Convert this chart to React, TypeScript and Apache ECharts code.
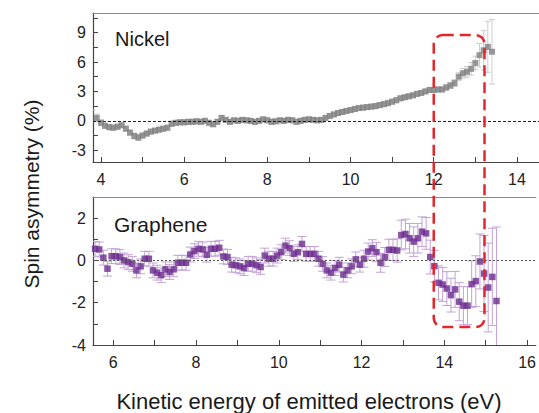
import React, { useEffect, useRef } from "react";
import * as echarts from "echarts";

// ---------- Nickel (top panel) ----------
const nickelEnergy = [
  3.8, 3.9, 4.0, 4.1, 4.2, 4.3, 4.4, 4.5, 4.6, 4.7, 4.8, 4.9, 5.0, 5.1, 5.2, 5.3, 5.4, 5.5, 5.6, 5.7,
  5.8, 5.9, 6.0, 6.1, 6.2, 6.3, 6.4, 6.5, 6.6, 6.7, 6.8, 6.9, 7.0, 7.1, 7.2, 7.3, 7.4, 7.5, 7.6, 7.7,
  7.8, 7.9, 8.0, 8.1, 8.2, 8.3, 8.4, 8.5, 8.6, 8.7, 8.8, 8.9, 9.0, 9.1, 9.2, 9.3, 9.4, 9.5, 9.6, 9.7,
  9.8, 9.9, 10.0, 10.1, 10.2, 10.3, 10.4, 10.5, 10.6, 10.7, 10.8, 10.9, 11.0, 11.1, 11.2, 11.3, 11.4, 11.5, 11.6, 11.7,
  11.8, 11.9, 12.0, 12.1, 12.2, 12.3, 12.4, 12.5, 12.6, 12.7, 12.8, 12.9, 13.0, 13.1, 13.2, 13.3, 13.4,
];
const nickelAsym = [
  0.5, 0.3, -0.2, -0.5, -0.65, -0.7, -0.6, -0.45, -0.8, -1.2, -1.55, -1.7, -1.5, -1.3, -1.1, -1.0, -0.9, -0.8, -0.7, -0.3,
  -0.2, -0.15, -0.15, -0.1, -0.1, -0.05, -0.1, 0.0, -0.2, -0.35, -0.1, 0.3, 0.1, -0.1, 0.05, 0.0, 0.1, 0.05, 0.0, -0.1,
  0.0, 0.15, 0.05, -0.1, -0.05, 0.05, 0.0, 0.1, 0.05, -0.1, 0.0, 0.1, 0.15, 0.1, 0.05, 0.1, 0.3, 0.5, 0.65, 0.8,
  0.9, 1.0, 1.1, 1.2, 1.3, 1.35, 1.4, 1.45, 1.5, 1.6, 1.7, 1.8, 1.95, 2.1, 2.3, 2.4, 2.5, 2.6, 2.75, 2.85,
  3.0, 3.15, 3.15, 3.2, 3.2, 3.4, 3.6, 3.85, 4.5, 4.85, 5.0, 5.3, 5.9, 6.7, 7.2, 7.55, 7.05,
];
const nickelErr = [
  0.6, 0.4, 0.3, 0.25, 0.25, 0.25, 0.25, 0.25, 0.25, 0.25, 0.3, 0.3, 0.25, 0.25, 0.25, 0.25, 0.25, 0.25, 0.25, 0.25,
  0.25, 0.25, 0.25, 0.25, 0.25, 0.25, 0.25, 0.25, 0.25, 0.25, 0.25, 0.25, 0.25, 0.25, 0.25, 0.25, 0.25, 0.25, 0.25, 0.25,
  0.25, 0.25, 0.25, 0.25, 0.25, 0.25, 0.25, 0.25, 0.25, 0.25, 0.25, 0.25, 0.25, 0.25, 0.25, 0.25, 0.25, 0.25, 0.25, 0.25,
  0.25, 0.25, 0.25, 0.25, 0.25, 0.25, 0.25, 0.25, 0.25, 0.25, 0.25, 0.25, 0.25, 0.25, 0.25, 0.25, 0.25, 0.25, 0.25, 0.25,
  0.25, 0.25, 0.25, 0.25, 0.25, 0.3, 0.3, 0.35, 0.4, 0.5, 0.55, 0.65, 0.7, 1.2, 2.0, 2.6, 3.3,
];

// ---------- Graphene (bottom panel) ----------
const grapheneEnergy = [
  5.56, 5.66, 5.76, 5.86, 5.96, 6.06, 6.16, 6.26, 6.36, 6.46, 6.56, 6.66, 6.76, 6.86, 6.96, 7.06, 7.16, 7.26, 7.36, 7.46,
  7.56, 7.66, 7.76, 7.86, 7.96, 8.06, 8.16, 8.26, 8.36, 8.46, 8.56, 8.66, 8.76, 8.86, 8.96, 9.06, 9.16, 9.26, 9.36, 9.46,
  9.56, 9.66, 9.76, 9.86, 9.96, 10.06, 10.16, 10.26, 10.36, 10.46, 10.56, 10.66, 10.76, 10.86, 10.96, 11.06, 11.16, 11.26, 11.36, 11.46,
  11.56, 11.66, 11.76, 11.86, 11.96, 12.06, 12.16, 12.26, 12.36, 12.46, 12.56, 12.66, 12.76, 12.86, 12.96, 13.06, 13.16, 13.26, 13.36, 13.46,
  13.56, 13.66, 13.76, 13.86, 13.96, 14.06, 14.16, 14.26, 14.36, 14.46, 14.56, 14.66, 14.76, 14.86, 14.96, 15.06, 15.16, 15.26,
];
const grapheneAsym = [
  0.55, 0.52, 0.13, -0.39, 0.2, 0.2, 0.16, 0.0, -0.08, -0.16, -0.47, -0.28, 0.08, 0.08, -0.47, -0.58, -0.7, -0.42, -0.55, -0.42,
  -0.11, -0.11, -0.11, 0.28, 0.44, 0.55, 0.52, 0.27, 0.55, 0.55, 0.6, 0.19, 0.16, -0.2, -0.23, -0.28, -0.36, -0.16, -0.16, -0.23,
  -0.31, 0.23, 0.08, 0.08, 0.23, 0.39, 0.7, 0.58, 0.31, 0.39, 0.78, 0.31, 0.31, 0.31, 0.08, -0.16, -0.47, -0.58, -0.36, -0.2,
  -0.67, -0.47, -0.28, 0.05, -0.2, 0.08, 0.42, 0.58, 0.39, -0.11, 0.16, 0.5, 0.5, 0.47, 1.2, 1.25, 1.05, 0.89, 1.05, 1.36,
  1.28, 0.16, -0.27, -1.06, -1.14, -1.33, -1.64, -1.37, -1.95, -2.14, -2.14, -1.12, -0.98, -0.05, -0.62, -1.28, -0.78, -1.92,
];
const grapheneErr = [
  0.35, 0.35, 0.35, 0.35, 0.35, 0.35, 0.35, 0.35, 0.35, 0.35, 0.35, 0.35, 0.35, 0.35, 0.35, 0.35, 0.35, 0.35, 0.35, 0.35,
  0.35, 0.35, 0.35, 0.35, 0.35, 0.35, 0.35, 0.35, 0.35, 0.35, 0.35, 0.35, 0.35, 0.35, 0.35, 0.35, 0.35, 0.35, 0.35, 0.35,
  0.35, 0.35, 0.35, 0.35, 0.35, 0.35, 0.35, 0.35, 0.35, 0.35, 0.35, 0.35, 0.35, 0.35, 0.35, 0.35, 0.35, 0.35, 0.35, 0.35,
  0.35, 0.35, 0.35, 0.35, 0.35, 0.4, 0.4, 0.4, 0.45, 0.45, 0.45, 0.5, 0.5, 0.55, 0.7, 0.7, 0.7, 0.7, 0.7, 0.7,
  0.75, 0.8, 0.75, 0.8, 0.8, 0.8, 0.8, 0.85, 0.9, 0.9, 0.9, 1.1, 1.2, 1.3, 1.8, 2.1, 2.3, 3.5,
];

// ---------- Axis ticks / labels ----------
const nickelXRange = [3.81, 14.53];
const nickelXLabels = [4, 6, 8, 10, 12, 14];
const nickelXTicks = [4, 5, 6, 7, 8, 9, 10, 11, 12, 13, 14];
const nickelYRange = [-4.2, 11];
const nickelYLabels = [-3, 0, 3, 6, 9];
const nickelYTicks = [-3, -1.5, 0, 1.5, 3, 4.5, 6, 7.5, 9, 10.5];
const grapheneXRange = [5.51, 16.21];
const grapheneXLabels = [6, 8, 10, 12, 14, 16];
const grapheneXTicks = [6, 7, 8, 9, 10, 11, 12, 13, 14, 15, 16];
const grapheneYRange = [-4, 3];
const grapheneYLabels = [-4, -2, 0, 2];
const grapheneYTicks = [-4, -3, -2, -1, 0, 1, 2];

// highlighted window (red dashed box) in data units
const boxNickelX = [12.0, 13.22];
const boxNickelTop = 8.75;
const boxGrapheneBottom = -3.15;

const FONT = "'Liberation Sans', Arial, Helvetica, sans-serif";

function errorBarSeries(name: string, xs: number[], ys: number[], es: number[], idx: number, color: string, cap: number) {
  return {
    name,
    type: "custom",
    xAxisIndex: idx,
    yAxisIndex: idx,
    clip: true,
    silent: true,
    z: 1,
    data: xs.map((x, i) => [x, ys[i], es[i]]),
    encode: { x: 0, y: 1 },
    renderItem: (params: any, api: any) => {
      const x = api.value(0);
      const y = api.value(1);
      const e = api.value(2);
      const hi = api.coord([x, y + e]);
      const lo = api.coord([x, y - e]);
      const st = { stroke: color, lineWidth: 1, fill: "none" };
      return {
        type: "group",
        children: [
          { type: "line", shape: { x1: hi[0], y1: hi[1], x2: lo[0], y2: lo[1] }, style: st },
          { type: "line", shape: { x1: hi[0] - cap, y1: hi[1], x2: hi[0] + cap, y2: hi[1] }, style: st },
          { type: "line", shape: { x1: lo[0] - cap, y1: lo[1], x2: lo[0] + cap, y2: lo[1] }, style: st },
        ],
      };
    },
  };
}

function xAxisCfg(idx: number, range: number[], labels: number[], ticks: number[]) {
  return {
    type: "value",
    gridIndex: idx,
    min: range[0],
    max: range[1],
    axisLine: { show: true, onZero: false, lineStyle: { color: "#444", width: 1.2 } },
    axisTick: { show: true, inside: true, length: 5, customValues: ticks, lineStyle: { color: "#444" } },
    axisLabel: { customValues: labels, fontSize: 16, color: "#222", margin: 9, fontFamily: FONT },
    splitLine: { show: false },
  };
}

function topBorderAxis(idx: number, range: number[]) {
  return {
    type: "value",
    gridIndex: idx,
    position: "top",
    min: range[0],
    max: range[1],
    axisLine: { show: true, onZero: false, lineStyle: { color: "#888", width: 1.2 } },
    axisTick: { show: false },
    axisLabel: { show: false },
    splitLine: { show: false },
  };
}

function yAxisCfg(idx: number, range: number[], labels: number[], ticks: number[]) {
  return {
    type: "value",
    gridIndex: idx,
    min: range[0],
    max: range[1],
    axisLine: { show: true, onZero: false, lineStyle: { color: "#444", width: 1.2 } },
    axisTick: { show: true, inside: true, length: 5, customValues: ticks, lineStyle: { color: "#444" } },
    axisLabel: { customValues: labels, fontSize: 16, color: "#222", margin: 7, fontFamily: FONT },
    splitLine: { show: false },
  };
}

export default function App() {
  const ref = useRef<HTMLDivElement>(null);
  useEffect(() => {
    if (!ref.current) return;
    const chart = echarts.init(ref.current, undefined, { renderer: "svg" });
    const zeroLine = (color: string, dash: number[]) => ({
      silent: true,
      symbol: "none",
      z: 10,
      label: { show: false },
      lineStyle: { color, width: 1, type: dash },
      data: [{ yAxis: 0 }],
    });
    chart.setOption({
      animation: false,
      grid: [
        { left: 93, top: 13, right: 0, height: 149 },
        { left: 93, top: 197, right: 0, height: 148 },
      ],
      xAxis: [
        xAxisCfg(0, nickelXRange, nickelXLabels, nickelXTicks),
        xAxisCfg(1, grapheneXRange, grapheneXLabels, grapheneXTicks),
        topBorderAxis(0, nickelXRange),
        topBorderAxis(1, grapheneXRange),
      ],
      yAxis: [
        yAxisCfg(0, nickelYRange, nickelYLabels, nickelYTicks),
        yAxisCfg(1, grapheneYRange, grapheneYLabels, grapheneYTicks),
      ],
      series: [
        errorBarSeries("Nickel error", nickelEnergy, nickelAsym, nickelErr, 0, "#cdcdcd", 3),
        {
          name: "Nickel",
          type: "scatter",
          xAxisIndex: 0,
          yAxisIndex: 0,
          symbol: "rect",
          symbolSize: 6,
          itemStyle: { color: "#808080" },
          z: 2,
          data: nickelEnergy.map((x, i) => [x, nickelAsym[i]]),
          markLine: zeroLine("#222", [3, 2]),
        },
        errorBarSeries("Graphene error", grapheneEnergy, grapheneAsym, grapheneErr, 1, "#c4a2d8", 4.5),
        {
          name: "Graphene",
          type: "scatter",
          xAxisIndex: 1,
          yAxisIndex: 1,
          symbol: "rect",
          symbolSize: 6.5,
          itemStyle: { color: "#6b2a8f" },
          z: 2,
          data: grapheneEnergy.map((x, i) => [x, grapheneAsym[i]]),
          markLine: zeroLine("#555", [2, 2]),
        },
      ],
    });

    const pTL = chart.convertToPixel({ xAxisIndex: 0, yAxisIndex: 0 }, [boxNickelX[0], boxNickelTop]) as number[];
    const pTR = chart.convertToPixel({ xAxisIndex: 0, yAxisIndex: 0 }, [boxNickelX[1], boxNickelTop]) as number[];
    const pB = chart.convertToPixel({ xAxisIndex: 1, yAxisIndex: 1 }, [14.9, boxGrapheneBottom]) as number[];

    const txt = (id: string, text: string, x: number, y: number, size: number, align: string, rotation = 0) => ({
      id,
      type: "text",
      x,
      y,
      rotation,
      z: 20,
      style: {
        text,
        fontSize: size,
        fontFamily: FONT,
        fill: "#1a1a1a",
        align,
        textAlign: align,
        verticalAlign: "middle",
        textVerticalAlign: "middle",
      },
    });

    chart.setOption({
      graphic: [
        {
          id: "box",
          type: "rect",
          z: 15,
          shape: { x: pTL[0], y: pTL[1], width: pTR[0] - pTL[0], height: pB[1] - pTL[1], r: 9 },
          style: { fill: "none", stroke: "#e3262d", lineWidth: 2.5, lineDash: [11, 6] },
        },
        txt("nickel", "Nickel", 115, 39, 20, "left"),
        txt("graphene", "Graphene", 114, 224, 21, "left"),
        txt("ytitle", "Spin asymmetry (%)", 31, 194, 21, "center", Math.PI / 2),
        txt("xtitle", "Kinetic energy of emitted electrons (eV)", 309, 401, 22, "center"),
      ],
    });

    return () => chart.dispose();
  }, []);
  return <div ref={ref} style={{ position: "absolute", left: 0, top: 0, width: 539, height: 413 }} />;
}
